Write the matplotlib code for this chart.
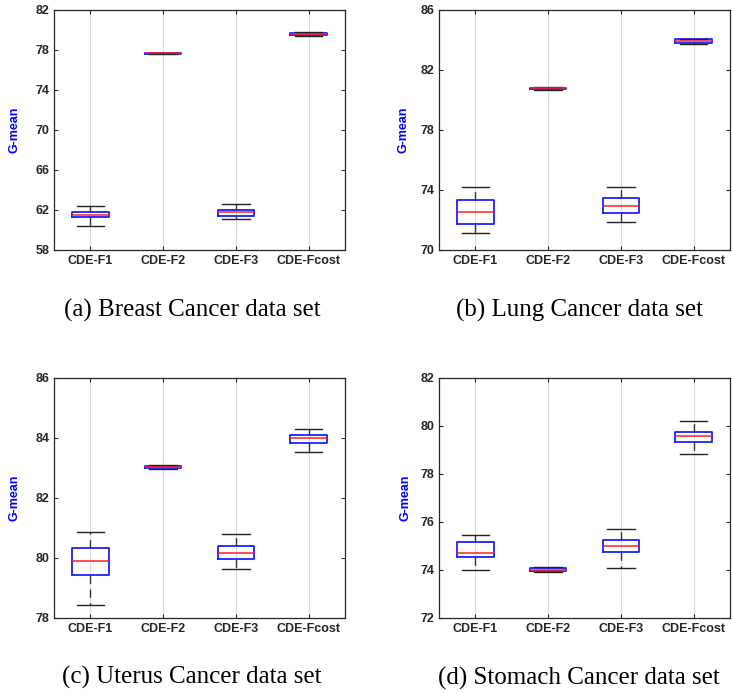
'''
G-mean boxplots for four cancer data sets
'''
import matplotlib
matplotlib.use('Agg')
import matplotlib.pyplot as plt

methods = ['CDE-F1', 'CDE-F2', 'CDE-F3', 'CDE-Fcost']

# per data set: whisker low, q1, median, q3, whisker high (one entry per method)
breast_lo  = [60.45, 77.64, 61.07, 79.37]
breast_q1  = [61.27, 77.65, 61.40, 79.55]
breast_med = [61.50, 77.67, 61.77, 79.63]
breast_q3  = [61.77, 77.69, 62.00, 79.75]
breast_hi  = [62.45, 77.70, 62.57, 79.80]

lung_lo  = [71.11, 80.70, 71.87, 83.72]
lung_q1  = [71.73, 80.73, 72.44, 83.78]
lung_med = [72.56, 80.78, 72.96, 83.91]
lung_q3  = [73.33, 80.83, 73.49, 84.05]
lung_hi  = [74.18, 80.87, 74.18, 84.10]

uterus_lo  = [78.45, 82.96, 79.65, 83.53]
uterus_q1  = [79.45, 83.00, 79.97, 83.84]
uterus_med = [79.89, 83.03, 80.17, 83.99]
uterus_q3  = [80.32, 83.07, 80.41, 84.11]
uterus_hi  = [80.87, 83.10, 80.79, 84.31]

stomach_lo  = [73.98, 73.93, 74.09, 78.82]
stomach_q1  = [74.55, 73.97, 74.76, 79.33]
stomach_med = [74.70, 74.01, 74.98, 79.60]
stomach_q3  = [75.16, 74.07, 75.26, 79.74]
stomach_hi  = [75.45, 74.12, 75.72, 80.22]

ylims = [(58, 82), (70, 86), (78, 86), (72, 82)]
yticks = [[58, 62, 66, 70, 74, 78, 82], [70, 74, 78, 82, 86],
          [78, 80, 82, 84, 86], [72, 74, 76, 78, 80, 82]]
captions = ['(a) Breast Cancer data set', '(b) Lung Cancer data set',
            '(c) Uterus Cancer data set', '(d) Stomach Cancer data set']

datasets = [
    (breast_lo, breast_q1, breast_med, breast_q3, breast_hi),
    (lung_lo, lung_q1, lung_med, lung_q3, lung_hi),
    (uterus_lo, uterus_q1, uterus_med, uterus_q3, uterus_hi),
    (stomach_lo, stomach_q1, stomach_med, stomach_q3, stomach_hi),
]

W, H = 732, 694
fig = plt.figure(figsize=(W/100, H/100), dpi=100)

# axes boxes in pixels: left, top, width, height
boxes = [(54, 10), (439, 10), (54, 378), (439, 378)]
AW, AH = 291, 240
# caption centers in pixels
cap_pos = [(192, 310), (579, 310), (192, 677), (579, 678)]
ylab_x = [15, 404, 15, 406]

dark = '#262626'
for i, (lo, q1, med, q3, hi) in enumerate(datasets):
    L, T = boxes[i]
    ax = fig.add_axes([L/W, 1-(T+AH)/H, AW/W, AH/H])
    stats = [dict(whislo=lo[k], q1=q1[k], med=med[k], q3=q3[k], whishi=hi[k], fliers=[])
             for k in range(len(methods))]
    ax.bxp(stats, positions=[1, 2, 3, 4], widths=0.5, showfliers=False,
           boxprops=dict(color='#1f1fff', lw=1.3),
           medianprops=dict(color='#ff2020', lw=1.1),
           whiskerprops=dict(color='#333333', lw=1.0, dashes=(6, 4)),
           capprops=dict(color='#222222', lw=1.0), capwidths=0.38)
    ax.set_xlim(0.5, 4.5)
    ax.set_ylim(*ylims[i])
    ax.set_yticks(yticks[i])
    ax.set_xticks([1, 2, 3, 4])
    ax.set_xticklabels(methods)
    ax.grid(axis='x', color='#dcdcdc', lw=0.8)
    ax.set_axisbelow(True)
    ax.tick_params(direction='in', top=True, right=True, length=3, width=0.8,
                   colors=dark, labelsize=9)
    for lab in ax.get_xticklabels() + ax.get_yticklabels():
        lab.set_fontweight('bold')
        lab.set_fontfamily('Liberation Sans')
    for sp in ax.spines.values():
        sp.set_color(dark)
        sp.set_linewidth(0.9)
    fig.text(ylab_x[i]/W, 1-(T+AH/2)/H, 'G-mean', rotation=90, color='#0000ff',
             fontsize=9, fontweight='bold', family='Liberation Sans',
             ha='center', va='center')
    cx, cy = cap_pos[i]
    fig.text(cx/W, 1-cy/H, captions[i], fontsize=18, family='Liberation Serif',
             ha='center', va='center')

fig.savefig('out.png', dpi=100)
